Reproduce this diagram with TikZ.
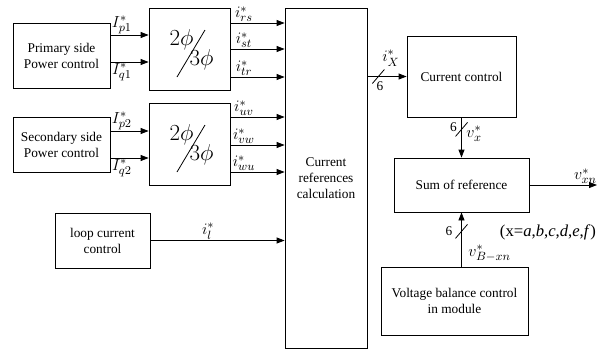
\documentclass[tikz,border=0pt]{standalone}
\usepackage{fontspec}
\setmainfont{Liberation Serif}
\usetikzlibrary{arrows.meta, positioning, calc}

\begin{document}
\begin{tikzpicture}[
    x=0.75pt, y=-0.75pt,
    block/.style={draw, line width=0.6pt, align=center, inner sep=2pt, font=\fontsize{10}{12}\selectfont},
    arrow/.style={-{Triangle[length=6pt, width=4.5pt]}, line width=0.6pt},
    sig/.style={font=\fontsize{13}{15}\selectfont, inner sep=0.5pt},
    num/.style={font=\fontsize{10}{12}\selectfont, inner sep=0pt},
    phase/.style={font=\fontsize{18}{20}\selectfont, inner sep=0pt}
]
\useasboundingbox (0,0) rectangle (608,354);

\node[block, minimum width=72.75pt, minimum height=48.75pt] (prim) at (61.5,55.5) {Primary side\\Power control};
\node[block, minimum width=72.75pt, minimum height=41.25pt] (sec) at (61.5,144.5) {Secondary side\\Power control};
\node[block, minimum width=60.75pt, minimum height=61.5pt] (conv1) at (189.5,49) {};
\node[block, minimum width=60.75pt, minimum height=61.5pt] (conv2) at (189.5,144) {};
\node[block, minimum width=71.25pt, minimum height=41.25pt] (loop) at (102.5,240.5) {loop current\\control};
\node[block, minimum width=61.5pt, minimum height=255pt] (calc) at (326,178) {Current\\references\\calculation};
\node[block, minimum width=81.75pt, minimum height=60.75pt] (cc) at (461.5,76.5) {Current control};
\node[block, minimum width=101.25pt, minimum height=40.5pt] (sum) at (461.5,185) {Sum of reference};
\node[block, minimum width=110.25pt, minimum height=51pt] (vbal) at (454.5,301) {Voltage balance control\\in module};
\coordinate (out) at (597,185);

% 2phi / 3phi inside the converters
\foreach \c in {conv1, conv2} {
    \node[phase] at ($(\c.center)+(-8,-9)$) {$2\phi$};
    \node[phase] at ($(\c.center)+(12,11)$) {$3\phi$};
    \draw[line width=0.6pt] ($(\c.center)+(15.5,-19)$) -- ($(\c.center)+(-12.5,28)$);
}

\draw[arrow] (prim.east |- 0,35) -- node[sig, above, pos=.3] {$I_{p1}^{*}$} (conv1.west |- 0,35);
\draw[arrow] (prim.east |- 0,62) -- node[sig, below, pos=.3] {$I_{q1}^{*}$} (conv1.west |- 0,62);
\draw[arrow] (sec.east |- 0,131) -- node[sig, above, pos=.3] {$I_{p2}^{*}$} (conv2.west |- 0,131);
\draw[arrow] (sec.east |- 0,158) -- node[sig, below, pos=.3] {$I_{q2}^{*}$} (conv2.west |- 0,158);

\foreach \y/\s in {23/rs, 49/st, 77/tr}
    \draw[arrow] (conv1.east |- 0,\y) -- node[sig, above, pos=.25] {$i_{\s}^{*}$} (calc.west |- 0,\y);
\foreach \y/\s in {117/uv, 145/vw, 172/wu}
    \draw[arrow] (conv2.east |- 0,\y) -- node[sig, above, pos=.25] {$i_{\s}^{*}$} (calc.west |- 0,\y);

\draw[arrow] (loop.east) -- node[sig, above, pos=.43] {$i_{l}^{*}$} (calc.west |- loop.east);

\draw[arrow] (calc.east |- cc.west) -- node[sig, above=7pt, pos=.6] {$i_{X}^{*}$} coordinate[pos=.28] (s1) (cc.west);
\draw[line width=0.6pt] ([shift={(-6,7)}]s1) -- ([shift={(6,-7)}]s1);
\node[num] at ([shift={(1.5,10)}]s1) {6};

\draw[arrow] (cc.south) -- coordinate[pos=.3] (s2) (cc.south |- sum.north);
\draw[line width=0.6pt] ([shift={(-6,7)}]s2) -- ([shift={(6,-7)}]s2);
\node[num] at ([shift={(-8,-2)}]s2) {6};
\node[sig, anchor=west] at ([shift={(4,4)}]s2) {$v_{x}^{*}$};

\draw[arrow] (vbal.north -| cc.south) -- coordinate[pos=.65] (s3) (sum.south -| cc.south);
\draw[line width=0.6pt] ([shift={(-6,7)}]s3) -- ([shift={(6,-7)}]s3);
\node[num] at ([shift={(-12.5,0)}]s3) {6};
\node[sig, anchor=west] at ([shift={(6,22)}]s3) {$v_{B-xn}^{*}$};

\draw[arrow] (sum.east) -- node[sig, above, pos=.83] {$v_{xn}^{*}$} (out);
\node[sig, font=\fontsize{12.5}{15}\selectfont] (range) at (548,232) {(x=\textit{a},\textit{b},\textit{c},\textit{d},\textit{e},\textit{f})};
\end{tikzpicture}
\end{document}
